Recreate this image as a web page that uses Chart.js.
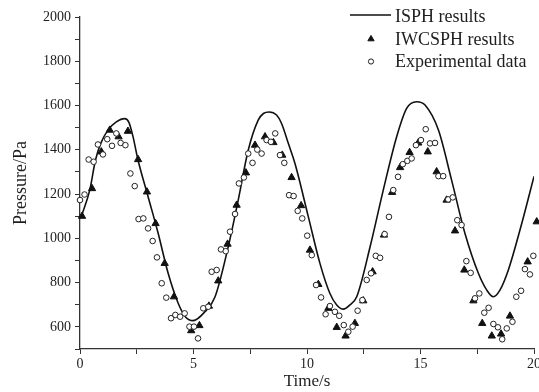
<!DOCTYPE html>
<html>
<head>
<meta charset="utf-8">
<script src="https://cdn.jsdelivr.net/npm/chart.js@4/dist/chart.umd.min.js"></script>
<style>
  html, body { margin:0; padding:0; background:#fff; overflow:hidden; }
  #wrap { position:relative; width:550px; height:392px; }
</style>
</head>
<body>
<div id="wrap"><canvas id="myChart"></canvas></div>
<script>
// ISPH results (solid line)
var isphTime = [0.06,0.43,0.68,0.91,1.23,1.6,1.97,2.15,2.33,2.55,3.0,3.44,3.88,4.32,4.65,4.98,5.5,5.95,6.53,6.97,7.41,7.85,8.08,8.33,8.66,8.88,9.18,9.47,10.06,10.57,11.01,11.31,11.6,11.89,12.19,12.78,13.36,13.95,14.39,14.83,15.2,15.79,16.37,16.96,17.55,17.92,18.21,18.5,18.87,19.46,20.0];
var isphPressure = [1100,1218,1353,1428,1489,1526,1541,1525,1462,1356,1188,1024,843,708,645,628,668,736,962,1173,1398,1534,1564,1571,1557,1519,1428,1338,1097,887,751,699,680,699,736,962,1218,1459,1587,1617,1602,1489,1263,1022,842,766,736,766,857,1067,1280];

// IWCSPH results (filled triangles)
var iwcTime = [0.09,0.53,0.94,1.31,1.7,2.11,2.56,2.95,3.33,3.73,4.14,4.9,5.26,5.68,6.09,6.5,6.9,7.31,7.71,8.15,8.52,8.91,9.32,9.74,10.13,10.5,10.94,11.31,11.7,12.11,12.48,12.89,13.39,13.75,14.1,14.52,14.9,15.32,15.71,16.15,16.52,16.93,17.33,17.72,18.14,18.55,18.94,19.72,20.12];
var iwcPressure = [1100,1225,1391,1489,1459,1484,1356,1210,1067,887,736,583,606,694,808,974,1150,1296,1421,1459,1433,1376,1275,1148,947,792,684,598,559,616,718,849,1015,1208,1320,1388,1431,1391,1301,1173,1034,857,718,616,559,568,649,894,1075];

// Experimental data (open circles)
var expTime = [0.0,0.2,0.38,0.6,0.79,1.01,1.2,1.41,1.6,1.79,2.0,2.22,2.41,2.58,2.79,3.0,3.2,3.39,3.6,3.8,4.01,4.2,4.41,4.61,4.82,5.02,5.2,5.43,5.65,5.8,6.02,6.21,6.42,6.61,6.83,7.0,7.22,7.41,7.6,7.81,8.0,8.22,8.41,8.6,8.81,9.0,9.21,9.41,9.59,9.79,10.01,10.21,10.4,10.62,10.82,11.01,11.23,11.42,11.62,11.82,12.01,12.23,12.44,12.63,12.82,13.03,13.22,13.42,13.61,13.8,14.01,14.22,14.42,14.61,14.8,15.02,15.23,15.42,15.64,15.79,16.0,16.22,16.42,16.62,16.81,17.02,17.21,17.4,17.59,17.81,18.0,18.21,18.41,18.6,18.8,19.05,19.22,19.43,19.6,19.82,19.97];
var expPressure = [1173,1198,1356,1346,1424,1379,1448,1418,1474,1431,1421,1293,1236,1087,1090,1045,988,914,797,732,639,654,646,661,601,601,548,684,691,849,857,950,942,1030,1110,1248,1275,1383,1341,1401,1383,1444,1436,1474,1376,1341,1195,1191,1124,1090,1012,924,789,733,657,694,668,650,608,578,601,673,721,812,842,921,912,1019,1097,1218,1278,1335,1350,1361,1421,1444,1493,1429,1431,1281,1281,1176,1185,1082,1060,897,844,729,751,664,686,613,598,544,593,623,736,763,861,837,921];

var legendLabels = ["ISPH results", "IWCSPH results", "Experimental data"];

function pts(xs, ys){
  var out = [];
  for (var i = 0; i < xs.length; i++) out.push({x: xs[i], y: ys[i]});
  return out;
}

var ink = "#1e1e1e";
var serif = "'Liberation Serif', 'Times New Roman', serif";

// legend drawn in the top right corner, line sample then markers
var cornerLegend = {
  id: "cornerLegend",
  afterDraw: function(chart){
    var ctx = chart.ctx;
    var ds = chart.data.datasets;
    ctx.save();
    ctx.font = "18px " + serif;
    ctx.fillStyle = ink;
    ctx.textBaseline = "alphabetic";
    ctx.textAlign = "left";
    // line sample
    ctx.strokeStyle = ds[0].borderColor;
    ctx.lineWidth = ds[0].borderWidth;
    ctx.beginPath(); ctx.moveTo(350, 15); ctx.lineTo(391, 15); ctx.stroke();
    ctx.fillText(legendLabels[0], 395, 22);
    // triangle marker
    ctx.fillStyle = "#111"; ctx.strokeStyle = "#111"; ctx.lineWidth = 1;
    Chart.helpers.drawPoint(ctx, {pointStyle: "triangle", radius: 3.6, borderWidth: 1}, 371, 39);
    ctx.fillStyle = ink;
    ctx.fillText(legendLabels[1], 395, 45);
    // circle marker
    ctx.fillStyle = "#fff"; ctx.strokeStyle = ink; ctx.lineWidth = 1;
    Chart.helpers.drawPoint(ctx, {pointStyle: "circle", radius: 2.6, borderWidth: 1}, 371, 61.5);
    ctx.fillStyle = ink;
    ctx.fillText(legendLabels[2], 395, 67);
    ctx.restore();
  }
};

let ctx = document.getElementById("myChart").getContext("2d");
let chart = new Chart(ctx, {
  type: "scatter",
  data: {
    datasets: [{
      label: legendLabels[0],
      data: pts(isphTime, isphPressure),
      showLine: true,
      borderColor: "#111",
      borderWidth: 1.6,
      pointRadius: 0,
      cubicInterpolationMode: "monotone",
      order: 3
    }, {
      label: legendLabels[1],
      data: pts(iwcTime, iwcPressure),
      pointStyle: "triangle",
      pointRadius: 4.2,
      backgroundColor: "#111",
      borderColor: "#111",
      borderWidth: 1,
      clip: false,
      order: 2
    }, {
      label: legendLabels[2],
      data: pts(expTime, expPressure),
      pointStyle: "circle",
      pointRadius: 2.8,
      backgroundColor: "#fff",
      borderColor: "#222",
      borderWidth: 1,
      clip: false,
      order: 1
    }]
  },
  options: {
    responsive: true,
    maintainAspectRatio: false,
    animation: false,
    devicePixelRatio: 1,
    layout: { padding: { top: 17, right: 16, left: 0, bottom: 0 } },
    plugins: { legend: { display: false }, tooltip: { enabled: false } },
    scales: {
      x: {
        type: "linear",
        min: 0, max: 20,
        afterFit: function(s){ s.height = 43; },
        border: { display: true, color: "#333", width: 1.3 },
        grid: { drawOnChartArea: false, drawTicks: true, tickLength: 5, tickColor: "#333", tickWidth: 1 },
        ticks: {
          stepSize: 2.5, autoSkip: false, maxRotation: 0, padding: 2,
          color: ink, font: { family: serif, size: 14 },
          callback: function(v){ return v % 5 === 0 ? v : ""; }
        },
        title: { display: true, text: "Time/s", color: ink, font: { family: serif, size: 17 }, padding: { top: 0, bottom: 0 } }
      },
      y: {
        min: 500, max: 2000,
        afterFit: function(s){ s.width = 80; },
        border: { display: true, color: "#333", width: 1.3 },
        grid: { drawOnChartArea: false, drawTicks: true, tickLength: 5, tickColor: "#333", tickWidth: 1 },
        ticks: {
          stepSize: 100, autoSkip: false, padding: 4,
          color: ink, font: { family: serif, size: 14 },
          callback: function(v){ return (v % 200 === 0 && v >= 600) ? v : ""; }
        },
        title: { display: true, text: "Pressure/Pa", color: ink, font: { family: serif, size: 18 }, padding: { top: 10, bottom: 0 } }
      }
    }
  },
  plugins: [cornerLegend]
});
</script>
</body>
</html>
